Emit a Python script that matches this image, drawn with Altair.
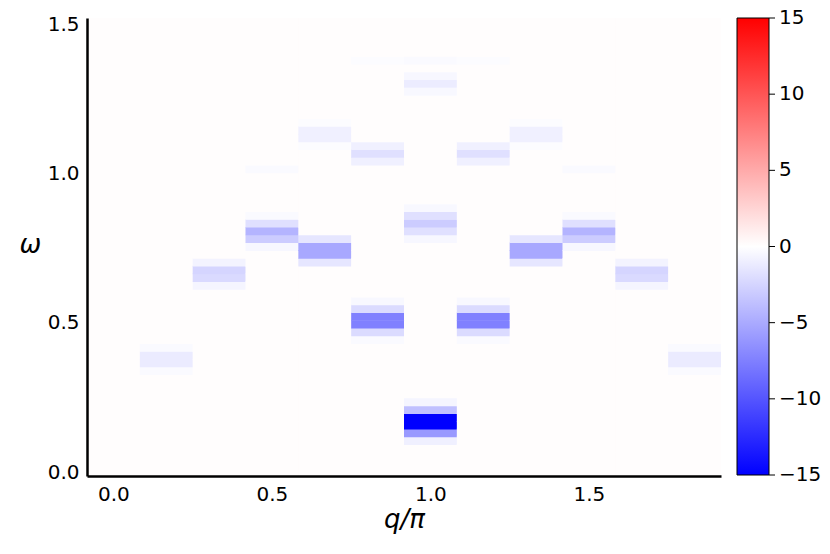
import altair as alt
import pandas as pd

# momentum grid (q/pi) and energy grid (omega)
q_values = [0.0, 1/6, 2/6, 3/6, 4/6, 5/6, 1.0, 7/6, 8/6, 9/6, 10/6, 11/6]
omega_step = 0.026
n_rows = 59
background = 0.12

# per-column intensity: omega row index -> value
col0 = {}
col1 = {16: -0.3, 15: -1.2, 14: -1.2, 13: -0.3}
col2 = {27: -0.7, 26: -2.5, 25: -2.2, 24: -0.6}
col3 = {39: -0.3, 33: -0.3, 32: -1.8, 31: -4.4, 30: -3.0, 29: -0.5}
col4 = {45: -0.2, 44: -0.9, 43: -0.9, 42: -0.2, 30: -1.5, 29: -5.1, 28: -5.1, 27: -1.5}
col5 = {53: -0.2, 42: -0.9, 41: -1.8, 40: -0.9,
        22: -0.4, 21: -2.1, 20: -7.5, 19: -7.5, 18: -2.1, 17: -0.3}
col6 = {53: -0.3, 51: -0.5, 50: -1.1, 49: -0.4,
        34: -0.4, 33: -1.8, 32: -3.0, 31: -1.8, 30: -0.5,
        9: -0.6, 8: -3.7, 7: -15.0, 6: -15.0, 5: -6.0, 4: -0.9}
col7 = dict(col5)
col8 = dict(col4)
col9 = dict(col3)
col10 = dict(col2)
col11 = dict(col1)
columns = [col0, col1, col2, col3, col4, col5, col6, col7, col8, col9, col10, col11]

x_ticks = [0.0, 0.5, 1.0, 1.5]
y_ticks = [0.0, 0.5, 1.0, 1.5]
cbar_ticks = [-15, -10, -5, 0, 5, 10, 15]
cbar_labels = ["−15", "−10", "−5", "0", "5", "10", "15"]

records = []
half_q = 1 / 12
seam = 0.002  # tiny overlap so neighbouring cells show no hairline gaps
for ci, q in enumerate(q_values):
    for j in range(n_rows):
        w = j * omega_step
        records.append({
            "q0": q - half_q, "q1": q + half_q + seam,
            "w0": w - omega_step / 2, "w1": w + omega_step / 2 + seam,
            "v": columns[ci].get(j, background),
        })
df = pd.DataFrame(records)
cb_df = pd.DataFrame({"t": cbar_ticks, "lab": cbar_labels})

FONT = "DejaVu Sans"
W, H = 634, 458
CB_OFFSET, CB_THICK, CB_LEN = 16, 32, 457
cscale = alt.Scale(domain=[-15, 0, 15], range=["#0000ff", "#ffffff", "#ff0000"],
                   clamp=True, interpolate="rgb")

heat = alt.Chart(df).mark_rect(clip=True).encode(
    x=alt.X("q0:Q", scale=alt.Scale(domain=[-half_q, 23 / 12], nice=False, zero=False),
            axis=alt.Axis(values=x_ticks, format=".1f", ticks=False, grid=False,
                          domainColor="black", domainWidth=2.5, zindex=1, labelFontSize=20,
                          labelFont=FONT, labelColor="black", labelPadding=8,
                          title="q/π", titleFont=FONT, titleFontSize=26,
                          titleFontStyle="italic", titleFontWeight="normal",
                          titleColor="black", titleY=43, titleBaseline="middle")),
    x2="q1:Q",
    y=alt.Y("w0:Q", scale=alt.Scale(domain=[-omega_step / 2, (n_rows - 0.5) * omega_step],
                                    nice=False, zero=False),
            axis=alt.Axis(values=y_ticks, format=".1f", ticks=False, grid=False,
                          domainColor="black", domainWidth=2.5, zindex=1, labelFontSize=20,
                          labelFont=FONT, labelColor="black", labelPadding=8,
                          title="ω", titleFont=FONT, titleFontSize=26,
                          titleFontStyle="italic", titleFontWeight="normal",
                          titleColor="black", titleAngle=0, titleX=-57, titleY=226,
                          titleAlign="center", titleBaseline="middle")),
    y2="w1:Q",
    color=alt.Color("v:Q", scale=cscale,
                    legend=alt.Legend(title=None, type="gradient", values=cbar_ticks,
                                      orient="right",
                                      offset=CB_OFFSET, padding=0, direction="vertical",
                                      gradientLength=CB_LEN, gradientThickness=CB_THICK,
                                      gradientStrokeColor="black", gradientStrokeWidth=1,
                                      labelExpr="''", labelFontSize=1, labelOverlap=False)),
)

cb_y = alt.Y("t:Q", scale=alt.Scale(domain=[-15, 15], range=[CB_LEN, 0]), axis=None)
cb_ticks = alt.Chart(cb_df).mark_rule(color="black", strokeWidth=1).encode(
    x=alt.value(W + CB_OFFSET + CB_THICK), x2=alt.value(W + CB_OFFSET + CB_THICK + 6),
    y=cb_y,
)
cb_text = alt.Chart(cb_df).mark_text(align="left", baseline="middle", fontSize=20,
                                     font=FONT, color="black").encode(
    x=alt.value(W + CB_OFFSET + CB_THICK + 10),
    y=cb_y,
    text="lab:N",
)

chart = alt.layer(heat, cb_ticks, cb_text).resolve_scale(y="independent").properties(
    width=W, height=H,
    padding={"left": 79, "top": 10, "right": 101, "bottom": 62},
    autosize=alt.AutoSizeParams(type="none"),
).configure_view(stroke=None)

chart.save("out.html", embed_options={"renderer": "svg", "actions": False})
